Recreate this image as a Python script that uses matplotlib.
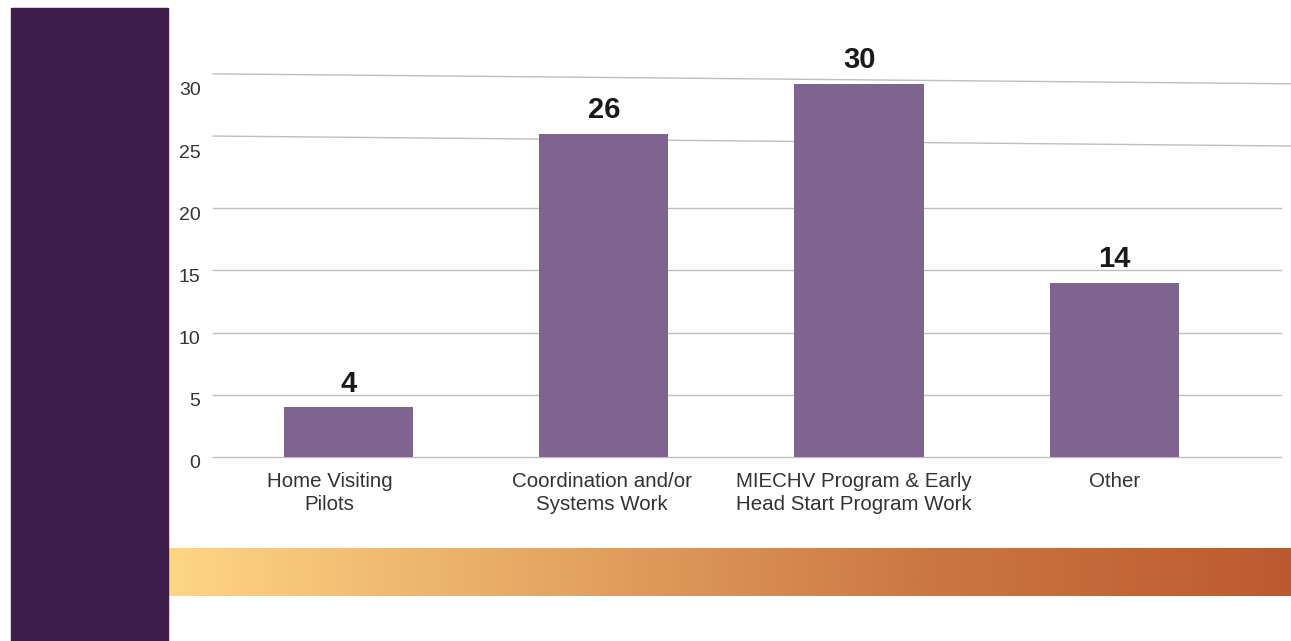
import matplotlib
matplotlib.use('Agg')
import matplotlib.pyplot as plt
import matplotlib.transforms as mtransforms
from matplotlib.colors import LinearSegmentedColormap
from matplotlib.patches import Rectangle
import numpy as np

matplotlib.rcParams['font.family'] = ['Liberation Sans', 'DejaVu Sans']

categories = ['Home Visiting\nPilots', 'Coordination and/or\nSystems Work',
              'MIECHV Program & Early\nHead Start Program Work', 'Other']
values = [4, 26, 30, 14]
yticks = [0, 5, 10, 15, 20, 25, 30]

W, H = 1291, 641
fig = plt.figure(figsize=(W / 100, H / 100), dpi=100)
fig.patch.set_facecolor('white')

# dark purple side band
fig.patches.append(Rectangle((11 / W, 0), (168 - 11) / W, 1 - 8 / H,
                             transform=fig.transFigure, color='#3F1D4B', zorder=0))

# gradient strip at the bottom
gax = fig.add_axes([168 / W, 1 - 596 / H, (W - 168) / W, 48 / H])
cmap = LinearSegmentedColormap.from_list('band', ['#FED683', '#E6A764', '#CC7843', '#BC5A2F'])
gax.imshow(np.linspace(0, 1, 512)[None, :], aspect='auto', cmap=cmap)
gax.axis('off')

# main chart
ax = fig.add_axes([213 / W, 1 - 457 / H, (1281 - 213) / W, 398 / H])
ylim_top = 398 / 12.44
x = np.arange(len(values))
bars = ax.bar(x, values, width=0.506, color='#7E648E', zorder=3)
ax.bar_label(bars, padding=7, fontsize=21, fontweight='bold', color='#1A1A1A')

ax.set_xlim(-0.531, 3.653)
ax.set_ylim(0, ylim_top)
ax.set_yticks(yticks)
ax.set_xticks(x)
ax.set_xticklabels(categories, fontsize=14.75, color='#333333', linespacing=1.3)
ax.tick_params(axis='y', length=0, pad=9, labelsize=14, labelcolor='#333333')
ax.tick_params(axis='x', length=0, pad=10.5)
for s in ax.spines.values():
    s.set_visible(False)

# labels sit a little below their gridlines in the source
down = mtransforms.ScaledTranslation(0, -5 / 100, fig.dpi_scale_trans)
for lab in ax.get_yticklabels():
    lab.set_transform(lab.get_transform() + down)
shifts = [-19, -2, -5, 0]
for lab, dx in zip(ax.get_xticklabels(), shifts):
    lab.set_transform(lab.get_transform() +
                      mtransforms.ScaledTranslation(dx / 100, 0, fig.dpi_scale_trans))

# gridlines: lower ones flat, the top two slightly tilted as in the source
for t in yticks:
    if t <= 20:
        ax.axhline(t, color='#BFBFBF', linewidth=1, zorder=1, clip_on=False)
    else:
        ax.plot([-0.531, 3.692], [t + 0.8, t], color='#BFBFBF', linewidth=1,
                zorder=1, clip_on=False)

fig.savefig('out.png', dpi=100)
